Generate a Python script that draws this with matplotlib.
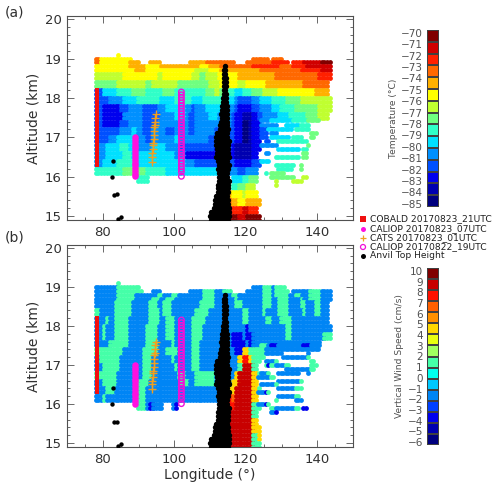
#!/usr/bin/env python3
import numpy as np
import matplotlib
matplotlib.use('Agg')
import matplotlib.pyplot as plt
from matplotlib.colors import ListedColormap

W, H = 500, 488

# colour bands, letter a is the lowest band
temp_colors = ['#00007f', '#0000b0', '#0000ee', '#0050ff', '#0090ff', '#00e0ff', '#30ffc8', '#70ff80',
               '#c0ff30', '#ffff00', '#ffb000', '#ff6800', '#ff2000', '#d00000', '#800000']
wind_colors = ['#00007f', '#0000b0', '#0000ee', '#0040ff', '#0085f5', '#00c8ff', '#00ffee', '#45ffa8',
               '#a0ff60', '#e8ff10', '#ffd800', '#ff9000', '#ff6000', '#ff1000', '#c80000', '#800000']
temp_ticks = list(range(-85, -69))
wind_ticks = list(range(-6, 11))

# field rows: altitude, then "lon+band" breakpoints, "." means nothing there
field_alts = [19.1, 19.0, 18.9, 18.8, 18.7, 18.6, 18.4, 18.2, 18.0, 17.8, 17.6, 17.4, 17.2, 17.0,
              16.8, 16.6, 16.4, 16.2, 16.0, 15.8, 15.6, 15.4, 15.2, 15.0, 14.8]

temp_rows = [
    "84j 85.",
    "78l 79j 88. 122l 126. 127l 130.",
    "78l 79j 87k 90. 93k 96. 104k 109l 115l 117. 120l 127m 132. 133m 136n 141o 144.",
    "78j 87k 92j 96k 104k 107j 110k 113l 117l 122m 130l 133m 137n 143n 144.",
    "78j 86j 89k 91k 92j 102j 106i 110j 113k 117k 124l 132l 135m 141n 144.",
    "78i 86j 95i 97j 103j 105i 107h 109i 112j 118k 124k 128l 133l 140m 144.",
    "78h 84i 87i 92h 94i 101h 106h 110i 113j 118i 120j 126k 132k 136l 143.",
    "78d 80f 84g 88h 92g 97h 100g 104g 109h 111i 113h 115g 117f 119g 122h 125i 129j 133j 139k 143.",
    "78d 82e 86f 90g 96f 100g 105f 108g 111g 115f 117e 118d 122e 124f 127g 131h 135i 140i 144.",
    "78d 80c 85d 87e 91d 95e 98f 103e 105d 106e 109f 115e 117d 118c 122d 124e 127f 130g 134h 140i 144.",
    "78d 80c 85c 86e 91d 96e 100f 103e 104d 106e 110f 112e 116d 117c 119b 122c 123d 125e 129f 132g 137h 140i 143.",
    "78d 80c 85d 87e 91d 95e 100e 104d 106e 112e 116d 117c 119a 121b 122c 124.",
    "78d 85e 88f 90e 91d 94e 98d 100e 104d 106e 111d 115d 117c 119a 121b 122c 124.",
    "78d 82e 84f 88f 90e 92d 94e 100f 102e 106e 110d 117c 119a 121b 122c 124.",
    "78e 81f 85g 87f 90e 94f 98e 102d 104d 111c 112d 116c 117b 122c 124.",
    "78e 81f 86g 88f 92f 100e 103c 111c 116c 117b 122c 123.",
    "78e 80f 84g 90f 103e 106d 111d 116d 117c 122d 124.",
    "78g 86h 92g 98f 104f 112e 116e 118d 120e 123.",
    "90g 93. 116f 119g 121h 123.",
    "116g 118h 120i 122.",
    "115k 116j 119i 120j 123.",
    "115l 116k 118j 120k 124.",
    "115n 116m 119n 121m 123.",
    "115o 118n 120o 124.",
    "115o 124.",
]

wind_rows = [
    "84h 85.",
    "78e 84h 90. 122e 125h 127e 128h 131.",
    "78e 84h 91. 94e 96. 104e 108h 111e 114h 116. 120e 125h 127e 128h 132. 133e 138h 141e 144.",
    "78e 84h 89e 95h 97e 99h 101e 108h 111e 116h 118e 125h 127e 128h 132e 134h 135e 138h 141e 144.",
    "78e 84h 89e 94h 96e 98h 100e 108h 111e 117h 118e 125h 127e 129h 132e 135h 136e 138h 141e 144.",
    "78e 83h 88e 93h 95e 97h 99e 107h 111e 117h 119e 125h 127e 129h 132e 135h 137e 139h 141e 143.",
    "78h 79e 83h 88e 93h 96e 97h 99e 106h 110e 119h 121e 125h 126e 129h 132e 136h 137e 139h 141e 143.",
    "78e 81h 82e 83h 87e 93h 96e 98h 100e 105h 109e 119h 121e 126h 127e 130h 133e 143.",
    "78e 80h 81e 83h 87e 92h 95e 98h 100e 105h 108e 117e 120c 121e 128e 131h 133e 144.",
    "78e 80h 81e 83h 87e 92h 95e 98h 100e 105h 108e 116c 119e 120c 122e 131h 133e 142h 144.",
    "78e 82h 87e 92h 95e 99h 100e 105h 107e 116c 120e 121c 122e 141.",
    "78h 86e 91h 95e 98h 101e 105h 107e 116e 117c 119k 121h 124.",
    "78e 79h 85e 91h 94e 99h 100e 105h 107e 116e 118k 119n 121k 122h 124.",
    "78e 80h 85e 91h 94e 100h 101e 105h 107e 116e 118h 119o 122h 123.",
    "78h 84e 91h 94e 101h 103e 106h 111e 116e 117k 118o 122k 123h 124.",
    "78e 80h 84e 90h 93e 102h 104e 106h 111e 116k 118o 122k 123.",
    "78e 81h 83e 90h 92e 111e 115k 117o 122k 123h 124.",
    "78e 80h 81e 90h 92e 115n 116m 117o 122k 123.",
    "90h 92e 93c 94e 97. 99e 100c 101. 115n 117o 122h 124.",
    "115o 122h 123.",
    "115o 122k 123.",
    "114o 122k 124.",
    "115o 122h 123k 124.",
    "115o 122h 124.",
    "115o 123.",
]

# thin separated stripes east of the storm
temp_stripe_alts = [17.43, 17.31, 17.2, 17.1, 17.0, 16.9, 16.8, 16.7, 16.6, 16.5, 16.4, 16.3, 16.2, 16.1, 16.0, 15.9, 15.8]
temp_stripes = [
    "124e 127f 133g 137h 141.",
    "124e 129. 131f 135g 138.",
    "124d 126f 133. 134g 138.",
    "124d 126. 127e 129. 138h 140.",
    "124d 126. 127f 132. 133g 136. 138h 139.",
    "125d 127. 129g 137.",
    "124e 129. 137h 138.",
    "129f 135. 136g 137.",
    "125e 127. 136h 137.",
    "128g 135. 136h 137.",
    "124f 127.",
    "128g 134. 135h 136.",
    "129g 133. 135h 136.",
    "125g 126. 127h 131.",
    "127h 134. 136i 137.",
    "128i 129. 133i 136.",
    "128i 129.",
]
wind_stripe_alts = [17.5, 17.4, 17.3, 17.2, 17.1, 17.0, 16.9, 16.8, 16.7, 16.6, 16.5, 16.4, 16.3, 16.2, 16.1, 16.0, 15.9, 15.8]
wind_stripes = [
    "124h 126e 127c 129e 136c 138e 141.",
    "124h 125e 132e 141.",
    "124h 125e 130. 137e 138.",
    "124h 125. 130e 137h 138.",
    "125e 128h 129. 138h 139.",
    "125h 126c 127h 128e 131h 132. 138h 140.",
    "125. 131e 138h 139.",
    "124e 126h 127. 129e 135. 137e 138.",
    "123e 127h 128.",
    "129e 135h 136. ",
    "124e 128h 129.",
    "129e 134h 136.",
    "123e 125c 126h 127.",
    "129e 134h 135.",
    "128h 129. 134e 136.",
    "123e 125c 126h 127.",
    "127h 128e 134h 135. 136c 137.",
    "127e 128c 129.",
]

# anvil top: altitude with west and east lon of the dense column
anvil_alts = [18.8, 18.7, 18.6, 18.5, 18.4, 18.3, 18.2, 18.1, 18.0, 17.9, 17.8, 17.7, 17.6, 17.5, 17.4, 17.3, 17.2,
              17.1, 17.0, 16.9, 16.8, 16.7, 16.6, 16.5, 16.4, 16.3, 16.2, 16.1, 16.0, 15.9, 15.8, 15.7, 15.6, 15.5,
              15.4, 15.3, 15.2, 15.1, 15.0, 14.9]
anvil_west = [114.1, 113.9, 113.9, 114.0, 114.0, 113.8, 113.9, 113.9, 113.7, 113.5, 113.4, 113.4, 113.1, 113.3, 113.0,
              112.9, 112.9, 111.9, 111.7, 111.8, 111.8, 112.0, 112.0, 111.8, 112.2, 112.4, 112.2, 112.4, 112.4, 112.4,
              112.2, 112.2, 112.2, 111.7, 111.5, 111.4, 111.0, 110.3, 110.0, 110.2]
anvil_east = [114.4, 114.5, 114.4, 114.4, 114.4, 114.5, 114.5, 114.7, 114.5, 114.7, 114.9, 114.9, 114.9, 115.0, 114.9,
              114.9, 115.1, 114.9, 115.1, 115.3, 115.1, 115.3, 115.2, 115.3, 114.9, 115.4, 115.1, 114.9, 114.9, 115.2,
              115.2, 115.2, 115.3, 115.1, 115.3, 115.1, 115.3, 115.4, 115.5, 115.4]
anvil_lone_lon = [83.0, 82.7, 83.2, 84.0, 84.2, 85.2]
anvil_lone_alt = [16.41, 16.0, 15.53, 15.55, 14.92, 14.98]

cobald_lon = [78.5] * 20
cobald_alt = [18.2, 18.1, 18.0, 17.9, 17.8, 17.7, 17.6, 17.5, 17.4, 17.3, 17.2, 17.1, 17.0, 16.9, 16.8, 16.7, 16.6, 16.5, 16.4, 16.3]
caliop07_lon = [89.0] * 15
caliop07_alt = [17.0, 16.93, 16.86, 16.79, 16.72, 16.65, 16.58, 16.5, 16.43, 16.36, 16.29, 16.22, 16.15, 16.08, 16.01]
cats_lon = [94.8, 94.7, 94.6, 94.6, 94.4, 94.4, 94.3, 94.2, 94.1, 94.1, 94.0, 93.9, 93.9, 93.8]
cats_alt = [17.6, 17.5, 17.4, 17.3, 17.25, 17.15, 17.05, 16.95, 16.85, 16.8, 16.7, 16.6, 16.5, 16.38]
caliop19_lon = [102.0] * 31
caliop19_alt = [18.15, 18.08, 18.01, 17.94, 17.87, 17.8, 17.73, 17.66, 17.59, 17.52, 17.45, 17.38, 17.31, 17.24, 17.17, 17.1,
                17.03, 16.96, 16.89, 16.82, 16.75, 16.68, 16.61, 16.54, 16.47, 16.4, 16.33, 16.26, 16.19, 16.12, 16.01]

legend_labels = ['COBALD 20170823_21UTC', 'CALIOP 20170823_07UTC', 'CATS 20170823_01UTC', 'CALIOP 20170822_19UTC', 'Anvil Top Height']

GRAY = '#505050'
DARK = '#303030'
plt.rcParams['font.family'] = ['DejaVu Sans']


def px_axes(fig, left, top, right, bottom):
    return fig.add_axes([left / W, 1 - bottom / H, (right - left) / W, (bottom - top) / H])


def parse(row):
    toks = row.split()
    return [(float(a[:-1]), float(b[:-1]), a[-1]) for a, b in zip(toks[:-1], toks[1:]) if a[-1] != '.']


def draw_dots(ax, row, alt, colors, dx=0.8):
    for lon0, lon1, code in parse(row):
        lons = np.arange(78, 145, dx)
        lons = lons[(lons >= lon0 - 0.01) & (lons < lon1)]
        ax.scatter(lons, [alt] * len(lons), s=12, color=colors[ord(code) - 97], linewidths=0, zorder=2)


def draw_panel(ax, rows, stripe_alts, stripes, colors):
    for i, row in enumerate(rows):
        alt = field_alts[i]
        next_alt = field_alts[i + 1] if i + 1 < len(field_alts) else alt - 0.1
        for level in np.arange(alt, next_alt + 0.01, -0.1):
            draw_dots(ax, row, level, colors)
    for alt, row in zip(stripe_alts, stripes):
        draw_dots(ax, row, alt, colors, dx=0.7)

    for alt, w, e in zip(anvil_alts, anvil_west, anvil_east):
        lons = np.arange(w, e + 0.01, 0.35)
        ax.scatter(lons, [alt] * len(lons), s=15, color='black', linewidths=0, zorder=3)
    ax.scatter(anvil_lone_lon, anvil_lone_alt, s=10, color='black', linewidths=0, zorder=3)

    ax.scatter(cobald_lon, cobald_alt, s=10, marker='s', color='#f01010', linewidths=0, zorder=4)
    ax.scatter(caliop07_lon, caliop07_alt, s=22, color='#ff10e0', linewidths=0, zorder=4)
    ax.scatter(cats_lon, cats_alt, s=28, marker='+', color='#f0a020', linewidths=1.0, zorder=5)
    ax.scatter(caliop19_lon, caliop19_alt, s=16, facecolors='none', edgecolors='#f010d8', linewidths=1.0, zorder=4)

    ax.set_xlim(70, 150)
    ax.set_xticks([80, 100, 120, 140])
    ax.set_xticks(np.arange(70, 151, 5), minor=True)
    ax.set_yticks([15, 16, 17, 18, 19, 20])
    ax.set_yticks(np.arange(15, 20.01, 0.2), minor=True)
    ax.tick_params(which='both', direction='in', top=True, right=True, color=GRAY, width=0.6)
    ax.tick_params(which='major', length=5, labelsize=9.5, labelcolor=DARK, pad=4)
    ax.tick_params(which='minor', length=2.5)
    for sp in ax.spines.values():
        sp.set_color(GRAY)
        sp.set_linewidth(0.8)
    ax.set_ylabel('Altitude (km)', fontsize=10, color=DARK, labelpad=3)


def draw_bar(fig, left, top, right, bottom, colors, ticks, lo, hi, title, title_x):
    ax = px_axes(fig, left, top, right, bottom)
    edges = np.linspace(lo, hi, len(colors) + 1)
    vals = np.arange(len(colors)).reshape(-1, 1)
    ax.pcolormesh([0, 1], edges, vals, cmap=ListedColormap(colors), edgecolors='#404040', linewidth=0.3)
    ax.set_ylim(lo, hi)
    ax.set_xticks([])
    ax.set_yticks(ticks)
    ax.set_yticklabels([str(t).replace('-', '\u2212') for t in ticks])
    ax.tick_params(axis='y', length=0, labelsize=7.5, labelcolor=GRAY, pad=3)
    for sp in ax.spines.values():
        sp.set_visible(False)
    fig.text(title_x / W, 1 - (top + bottom) / 2 / H, title, rotation=90, fontsize=6.6, color=GRAY, ha='center', va='center')


fig = plt.figure(figsize=(W / 100, H / 100), dpi=100)

ax_a = px_axes(fig, 67, 16, 353, 220)
draw_panel(ax_a, temp_rows, temp_stripe_alts, temp_stripes, temp_colors)
ax_a.set_ylim(14.9, 20.08)

ax_b = px_axes(fig, 67, 245, 353, 447)
draw_panel(ax_b, wind_rows, wind_stripe_alts, wind_stripes, wind_colors)
ax_b.set_ylim(14.9, 20.07)
ax_b.set_xlabel('Longitude (\u00b0)', fontsize=10, color=DARK, labelpad=2)

fig.text(5 / W, 1 - 13 / H, '(a)', fontsize=10, color=DARK, va='center')
fig.text(5 / W, 1 - 238 / H, '(b)', fontsize=10, color=DARK, va='center')

draw_bar(fig, 427, 30, 439, 207, temp_colors, temp_ticks, -85.29, -69.76, 'Temperature (\u00b0C)', 394)
draw_bar(fig, 427, 268, 439, 445, wind_colors, wind_ticks, -6.28, 10.28, 'Vertical Wind Speed (cm/s)', 399)

# legend between the two colour bars
ax_leg = fig.add_axes([0, 0, 1, 1], facecolor='none')
ax_leg.set_xlim(0, W)
ax_leg.set_ylim(H, 0)
ax_leg.axis('off')
leg_y = [219, 228.5, 238, 247, 256]
ax_leg.scatter([363], [leg_y[0]], s=13, marker='s', color='#f01010', linewidths=0)
ax_leg.scatter([363], [leg_y[1]], s=13, color='#ff10e0', linewidths=0)
ax_leg.scatter([363], [leg_y[2]], s=16, marker='+', color='#f0a020', linewidths=0.9)
ax_leg.scatter([363], [leg_y[3]], s=13, facecolors='none', edgecolors='#f010d8', linewidths=0.9)
ax_leg.scatter([363], [leg_y[4]], s=13, color='black', linewidths=0)
for y, lab in zip(leg_y, legend_labels):
    ax_leg.text(370, y, lab, fontsize=6.6, color='#202020', va='center', ha='left')

plt.savefig('out.png', dpi=100)
